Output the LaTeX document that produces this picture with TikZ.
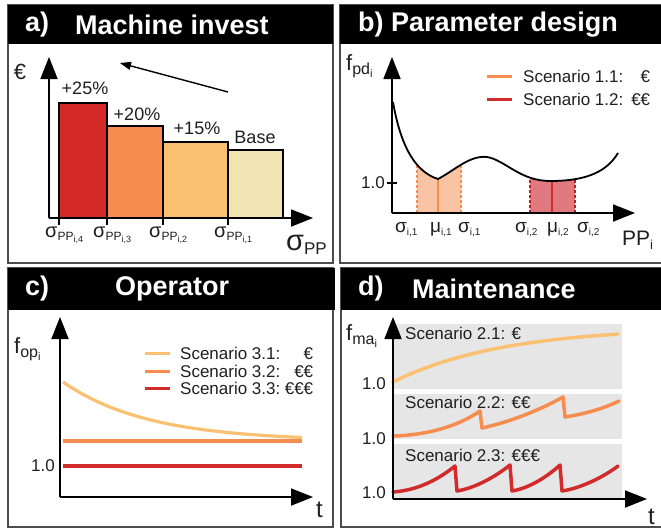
\documentclass[tikz,border=0pt]{standalone}
\usepackage{fontspec}
\setmainfont{Liberation Sans}
\usetikzlibrary{arrows.meta}
\definecolor{invRed}{HTML}{D32A27}
\definecolor{invOrange}{HTML}{F68C4E}
\definecolor{invLight}{HTML}{FBC173}
\definecolor{invPale}{HTML}{F3E4B4}
\definecolor{regLight}{HTML}{F9C4A4}
\definecolor{regDark}{HTML}{E07A7F}
\definecolor{lineRed}{HTML}{D22B2B}
\definecolor{bandGray}{HTML}{E6E6E6}
\newcommand{\sigPP}[1]{σ\raisebox{-3pt}{\fontsize{12}{12}\selectfont PP\raisebox{-2pt}{\fontsize{9}{9}\selectfont i,#1}}}
\newcommand{\ilab}[2]{#1\raisebox{-3pt}{\fontsize{10}{10}\selectfont i,#2}}
\newcommand{\fsub}[1]{f\raisebox{-4pt}{\fontsize{16}{16}\selectfont #1\raisebox{-3pt}{\fontsize{11}{11}\selectfont i}}}
\newcommand{\pdcurve}{(393,102) .. controls (401,148) and (416,172) .. (438,179) .. controls (455,170) and (470,155) .. (487,157) .. controls (505,160) and (520,181) .. (550,181) .. controls (580,181) and (605,175) .. (618,153)}
\tikzset{
    panel/.style={draw=black!70, line width=1.2pt},
    titlebar/.style={fill=black},
    bartitle/.style={anchor=west, inner sep=0pt, text=white, font=\fontsize{27}{30}\selectfont\bfseries},
    axisarrow/.style={line width=1.8pt, -{Triangle[length=22pt,width=17pt]}},
    bar/.style={draw=black, line width=1.3pt},
    txt/.style={inner sep=0pt, text=black!88, font=\fontsize{17}{19}\selectfont},
    pct/.style={inner sep=0pt, text=black!88, font=\fontsize{18}{20}\selectfont},
    sig/.style={anchor=base west, inner sep=0pt, text=black!88, font=\fontsize{20}{22}\selectfont},
    small/.style={anchor=base west, inner sep=0pt, text=black!88, font=\fontsize{19}{21}\selectfont},
    flab/.style={anchor=base west, inner sep=0pt, text=black!88, font=\fontsize{22}{24}\selectfont},
    trend/.style={line width=1.4pt, -{Triangle[length=11pt,width=8pt]}},
    pdline/.style={line width=1.8pt, black},
    dotline/.style={line width=2.6pt, dash pattern=on 2.5pt off 2.5pt},
    muline/.style={line width=2.8pt},
    legline/.style={line width=3pt},
    cline/.style={line width=4.5pt},
    dcurve/.style={line width=3.5pt, line join=round, line cap=round}
}
\begin{document}
\begin{tikzpicture}[x=1pt, y=-1pt]
    \useasboundingbox (0,0) rectangle (661,528);
    % a) Machine invest
    \draw[panel] (8,5) rectangle (333,263);
    \fill[titlebar] (8,5) rectangle (333,44);
    \node[bartitle] (aLetter) at (25,25) {a)};
    \node[bartitle] (aTitle) at (75,25) {Machine invest};
    \draw[bar, fill=invRed] (59,218) rectangle (107,103);
    \draw[bar, fill=invOrange] (107,218) rectangle (163,126);
    \draw[bar, fill=invLight] (163,218) rectangle (228,142);
    \draw[bar, fill=invPale] (228,218) rectangle (283,150);
    \node[pct] (p25) at (85,88) {+25\%};
    \node[pct] (p20) at (137,114) {+20\%};
    \node[pct] (p15) at (197,128) {+15\%};
    \node[pct] (pBase) at (255,137) {Base};
    \foreach \x/\n in {59/4,107/3,163/2,228/1}{
        \draw[line width=1.3pt] (\x,218) -- (\x,225);
        \node[sig] (sPP\n) at (\x-14,237) {\sigPP{\n}};
    }
    \coordinate (aO) at (49,218);
    \coordinate (aY) at (49,57);
    \coordinate (aX) at (313,218);
    \draw[axisarrow] (aO) -- (aY);
    \draw[axisarrow] (aO) -- (aX);
    \node[txt, font=\fontsize{22}{24}\selectfont] (aEuro) at (20,72) {€};
    \node[sig, font=\fontsize{29}{30}\selectfont] (aSigma) at (286,250) {σ\raisebox{-4pt}{\fontsize{17}{17}\selectfont PP}};
    \coordinate (aFrom) at (228,92);
    \coordinate (aTo) at (120,63);
    \draw[trend] (aFrom) -- (aTo);

    % b) Parameter design
    \draw[panel] (340,5) rectangle (668,263);
    \fill[titlebar] (340,5) rectangle (668,44);
    \node[bartitle] (bTitle) at (358,25) {b) Parameter design};
    \begin{scope}
        \clip \pdcurve -- (618,213) -- (393,213) -- cycle;
        \fill[regLight] (417,90) rectangle (461,213);
        \fill[regDark] (530,90) rectangle (575,213);
        \draw[dotline, invOrange] (417,90) -- (417,213);
        \draw[dotline, invOrange] (461,90) -- (461,213);
        \draw[dotline, lineRed!85!black] (530,90) -- (530,213);
        \draw[dotline, lineRed!85!black] (575,90) -- (575,213);
        \draw[muline, invOrange] (438,90) -- (438,213);
        \draw[muline, lineRed] (552,90) -- (552,213);
    \end{scope}
    \draw[pdline] \pdcurve;
    \coordinate (bO) at (392,213);
    \coordinate (bY) at (392,57);
    \coordinate (bX) at (635,213);
    \draw[axisarrow] (bO) -- (bY);
    \draw[axisarrow] (bO) -- (bX);
    \draw[line width=1.5pt] (387,183) -- (397,183);
    \node[txt, anchor=east] (b10) at (385,183) {1.0};
    \node[small] (bs1a) at (395,232) {\ilab{σ}{1}};
    \node[small] (bm1) at (430,232) {\ilab{μ}{1}};
    \node[small] (bs1b) at (458,232) {\ilab{σ}{1}};
    \node[small] (bs2a) at (515,232) {\ilab{σ}{2}};
    \node[small] (bm2) at (547,232) {\ilab{μ}{2}};
    \node[small] (bs2b) at (577,232) {\ilab{σ}{2}};
    \node[flab, font=\fontsize{21}{23}\selectfont] (bPP) at (622,245) {PP\raisebox{-4pt}{\fontsize{13}{13}\selectfont i}};
    \node[flab] (bF) at (346,70) {\fsub{pd}};
    \draw[legline, invOrange] (487,76) -- (512,76);
    \draw[legline, lineRed] (487,99) -- (512,99);
    \node[txt, anchor=west] (bLeg1) at (523,76) {\makebox[127pt][s]{Scenario 1.1:\hfill €}};
    \node[txt, anchor=west] (bLeg2) at (523,99) {\makebox[127pt][s]{Scenario 1.2:\hfill €€}};

    % c) Operator
    \draw[panel] (8,268) rectangle (333,527);
    \fill[titlebar] (8,268) rectangle (335,310);
    \node[bartitle] (cLetter) at (25,289) {c)};
    \node[bartitle] (cTitle) at (115,289) {Operator};
    \draw[cline, lineRed] (63,466) -- (302,466);
    \draw[cline, invOrange] (63,441) -- (302,441);
    \draw[line width=3.2pt, invLight] plot[domain=63:302, samples=50] (\x, {441-59*exp(-(\x-63)/85)});
    \coordinate (cO) at (60,497);
    \coordinate (cY) at (60,317);
    \coordinate (cX) at (313,497);
    \draw[axisarrow] (cO) -- (cY);
    \draw[axisarrow] (cO) -- (cX);
    \node[txt, anchor=east] (c10) at (55,466) {1.0};
    \node[flab] (cF) at (14,353) {\fsub{op}};
    \node[flab, font=\fontsize{24}{26}\selectfont] (cT) at (316,517) {t};
    \draw[legline, invLight] (145,353) -- (170,353);
    \draw[legline, invOrange] (145,371) -- (170,371);
    \draw[legline, lineRed] (145,388) -- (170,388);
    \node[txt, anchor=west] (cLeg1) at (180,353) {\makebox[133pt][s]{Scenario 3.1:\hfill €}};
    \node[txt, anchor=west] (cLeg2) at (180,371) {\makebox[133pt][s]{Scenario 3.2:\hfill €€}};
    \node[txt, anchor=west] (cLeg3) at (180,388) {\makebox[133pt][s]{Scenario 3.3:\hfill €€€}};

    % d) Maintenance
    \draw[panel] (341,268) rectangle (668,527);
    \fill[titlebar] (341,268) rectangle (668,310);
    \node[bartitle] (dLetter) at (358,289) {d)};
    \node[bartitle] (dTitle) at (412,289) {Maintenance};
    \fill[bandGray] (393,324) rectangle (622,389);
    \fill[bandGray] (393,394) rectangle (622,439);
    \fill[bandGray] (393,444) rectangle (622,499);
    \node[txt, anchor=base west] (dS1) at (405,339) {Scenario 2.1: €};
    \node[txt, anchor=base west] (dS2) at (405,408) {Scenario 2.2: €€};
    \node[txt, anchor=base west] (dS3) at (405,461) {Scenario 2.3: €€€};
    \draw[dcurve, invLight] plot[domain=393:618, samples=40] (\x, {382-55*(1-exp(-(\x-393)/110))});
    \draw[dcurve, invOrange] (393,436) .. controls (430,435) and (460,425) .. (480,411) -- (482,428) .. controls (510,422) and (540,410) .. (563,397) -- (565,417) .. controls (585,414) and (605,408) .. (619,401);
    \draw[dcurve, lineRed] (393,492) .. controls (420,490) and (440,478) .. (455,466) -- (457,491) .. controls (475,488) and (495,477) .. (510,465) -- (512,491) .. controls (530,488) and (548,476) .. (560,465) -- (562,491) .. controls (582,488) and (605,476) .. (618,466);
    \coordinate (dO) at (393,499);
    \coordinate (dY) at (393,317);
    \coordinate (dX) at (647,499);
    \draw[axisarrow] (dO) -- (dY);
    \draw[axisarrow] (dO) -- (dX);
    \node[txt, anchor=east] (d10a) at (386,384) {1.0};
    \node[txt, anchor=east] (d10b) at (386,439) {1.0};
    \node[txt, anchor=east] (d10c) at (386,493) {1.0};
    \node[flab] (dF) at (346,340) {\fsub{ma}};
    \node[flab, font=\fontsize{24}{26}\selectfont] (dT) at (648,524) {t};
\end{tikzpicture}
\end{document}
